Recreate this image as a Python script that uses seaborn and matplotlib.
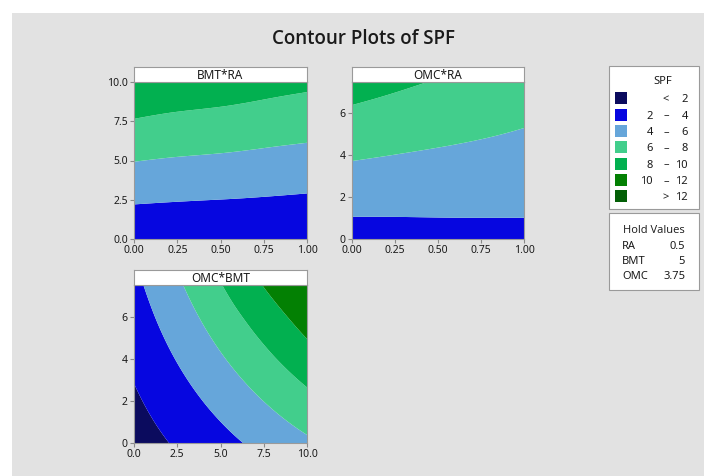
import numpy as np
import pandas as pd
import seaborn as sns
import matplotlib
matplotlib.use("Agg")
import matplotlib.pyplot as plt
import matplotlib.tri as mtri
from matplotlib.patches import Rectangle

# ---------------- data ----------------
ra_vals = [0.0, 0.25, 0.5, 0.75, 1.0]
bmt_vals = [0.0, 2.5, 5.0, 7.5, 10.0]
omc_vals = [0.0, 1.875, 3.75, 5.625, 7.5]

# SPF surface, rows = y variable, cols = x variable
spf_bmt_ra = [  # y = BMT, x = RA
    [2.39, 2.34, 2.29, 2.26, 2.20],
    [4.22, 4.09, 3.99, 3.88, 3.75],
    [6.06, 5.84, 5.69, 5.49, 5.30],
    [7.89, 7.58, 7.38, 7.11, 6.85],
    [9.72, 9.33, 9.08, 8.72, 8.40],
]
spf_omc_ra = [  # y = OMC, x = RA
    [3.21, 3.29, 3.38, 3.46, 3.53],
    [4.61, 4.55, 4.51, 4.46, 4.40],
    [6.02, 5.81, 5.63, 5.46, 5.28],
    [7.42, 7.08, 6.76, 6.46, 6.15],
    [8.83, 8.34, 7.89, 7.46, 7.03],
]
spf_omc_bmt = [  # y = OMC, x = BMT
    [1.06, 2.22, 3.39, 4.55, 5.66],
    [1.68, 3.10, 4.52, 5.93, 7.32],
    [2.31, 3.98, 5.65, 7.32, 8.98],
    [2.93, 4.85, 6.78, 8.70, 10.55],
    [3.53, 5.70, 7.91, 10.08, 11.95],
]

levels = [0, 2, 4, 6, 8, 10, 12, 14]
level_labels = [("", "<", "2"), ("2", "\u2013", "4"), ("4", "\u2013", "6"),
                ("6", "\u2013", "8"), ("8", "\u2013", "10"), ("10", "\u2013", "12"),
                ("", ">", "12")]
level_colors = ["#0b0b5e", "#0606e0", "#66a6da", "#42ce8c", "#02b050", "#038003", "#035f06"]

hold_names = ["RA", "BMT", "OMC"]
hold_values = ["0.5", "5", "3.75"]

panel_titles = ["BMT*RA", "OMC*RA", "OMC*BMT"]

# ---------------- style ----------------
sns.set_theme(style="ticks")
plt.rcParams["font.family"] = ["Noto Sans", "DejaVu Sans"]

W, H = 704, 476
fig = plt.figure(figsize=(W / 100, H / 100), dpi=100, facecolor="white")
BG = "#e2e2e2"
fig.patches.append(Rectangle((12 / W, 0), 1 - 12 / W, 1 - 13 / H,
                             transform=fig.transFigure, facecolor=BG,
                             edgecolor="none", zorder=-10))


def px_axes(x0, y0, x1, y1):
    return fig.add_axes([x0 / W, 1 - y1 / H, (x1 - x0) / W, (y1 - y0) / H])


def contour_panel(box, xv, yv, zv, title, xticks, xfmt, yticks, yfmt):
    x0, y0, x1, y1 = box
    ax = px_axes(x0, y0, x1, y1)
    xv = np.asarray(xv, float)
    yv = np.asarray(yv, float)
    zv = np.asarray(zv, float)
    # triangulate on normalised grid coordinates, let matplotlib smooth the field
    U, V = np.meshgrid((xv - xv[0]) / (xv[-1] - xv[0]), (yv - yv[0]) / (yv[-1] - yv[0]))
    tri = mtri.Triangulation(U.ravel(), V.ravel())
    refiner = mtri.UniformTriRefiner(tri)
    tri_f, z_f = refiner.refine_field(zv.ravel(), subdiv=4)
    tri_plot = mtri.Triangulation(xv[0] + tri_f.x * (xv[-1] - xv[0]),
                                  yv[0] + tri_f.y * (yv[-1] - yv[0]),
                                  tri_f.triangles)
    ax.tricontourf(tri_plot, z_f, levels=levels, colors=level_colors, antialiased=True)
    ax.set_xlim(xv[0], xv[-1])
    ax.set_ylim(yv[0], yv[-1])
    ax.set_xticks(xticks)
    ax.set_xticklabels([xfmt.format(t) for t in xticks])
    ax.set_yticks(yticks)
    ax.set_yticklabels([yfmt.format(t) for t in yticks])
    ax.tick_params(axis="both", length=3, width=0.8, color="#8a8a8a",
                   labelsize=7.5, labelcolor="#1a1a1a", pad=1.5)
    for s in ax.spines.values():
        s.set_color("#9a9a9a")
        s.set_linewidth(0.8)
    ax.set_xlabel("")
    ax.set_ylabel("")
    # strip
    st = px_axes(x0, y0 - 15, x1, y0)
    st.set_facecolor("white")
    st.set_xticks([])
    st.set_yticks([])
    for s in st.spines.values():
        s.set_color("#9a9a9a")
        s.set_linewidth(0.8)
    st.text(0.5, 0.45, title, ha="center", va="center", fontsize=8.5,
            color="#1a1a1a", transform=st.transAxes)
    return ax


contour_panel((134, 82, 307, 239), ra_vals, bmt_vals, spf_bmt_ra, panel_titles[0],
              [0, 0.25, 0.5, 0.75, 1.0], "{:.2f}", [0, 2.5, 5, 7.5, 10], "{:.1f}")
contour_panel((352, 82, 524, 239), ra_vals, omc_vals, spf_omc_ra, panel_titles[1],
              [0, 0.25, 0.5, 0.75, 1.0], "{:.2f}", [0, 2, 4, 6], "{:.0f}")
contour_panel((134, 285, 307, 443), bmt_vals, omc_vals, spf_omc_bmt, panel_titles[2],
              [0, 2.5, 5, 7.5, 10], "{:.1f}", [0, 2, 4, 6], "{:.0f}")

# title
fig.text(363 / W, 1 - 38.5 / H, "Contour Plots of SPF", ha="center", va="center",
         fontsize=13.5, fontweight=600, color="#1a1a1a",
         family=["Open Sans", "Noto Sans", "DejaVu Sans"])


def fx(x):
    return x / W


def fy(y):
    return 1 - y / H


# legend box
fig.patches.append(Rectangle((fx(609), fy(209)), (699 - 609) / W, (209 - 66) / H,
                             transform=fig.transFigure, facecolor="white",
                             edgecolor="#9a9a9a", lw=0.8))
fig.text(fx(663), fy(82), "SPF", ha="center", va="center", fontsize=8, color="#1a1a1a")
row_y0, row_dy = 98.3, 16.3
for i, ((lo, mid, hi), c) in enumerate(zip(level_labels, level_colors)):
    yy = row_y0 + i * row_dy
    yb = yy + 4
    fig.patches.append(Rectangle((fx(615), fy(yy + 6)), 12 / W, 12 / H,
                                 transform=fig.transFigure, facecolor=c, edgecolor="none"))
    if lo:
        fig.text(fx(653), fy(yb), lo, ha="right", va="baseline", fontsize=8, color="#1a1a1a")
    fig.text(fx(666), fy(yb), mid, ha="center", va="baseline", fontsize=8,
             color="#1a1a1a")
    fig.text(fx(688), fy(yb), hi, ha="right", va="baseline", fontsize=8, color="#1a1a1a")

# hold values box
fig.patches.append(Rectangle((fx(609), fy(290)), (699 - 609) / W, (290 - 213) / H,
                             transform=fig.transFigure, facecolor="white",
                             edgecolor="#9a9a9a", lw=0.8))
fig.text(fx(654), fy(230), "Hold Values", ha="center", va="center", fontsize=8,
         color="#1a1a1a", fontweight=500, family=["Open Sans", "Noto Sans", "DejaVu Sans"])
for i, (n, v) in enumerate(zip(hold_names, hold_values)):
    yy = 246 + i * 15.4
    fig.text(fx(622), fy(yy), n, ha="left", va="center", fontsize=8, color="#1a1a1a")
    fig.text(fx(685), fy(yy), v, ha="right", va="center", fontsize=8, color="#1a1a1a")

fig.savefig("out.png", dpi=100, facecolor="white")
